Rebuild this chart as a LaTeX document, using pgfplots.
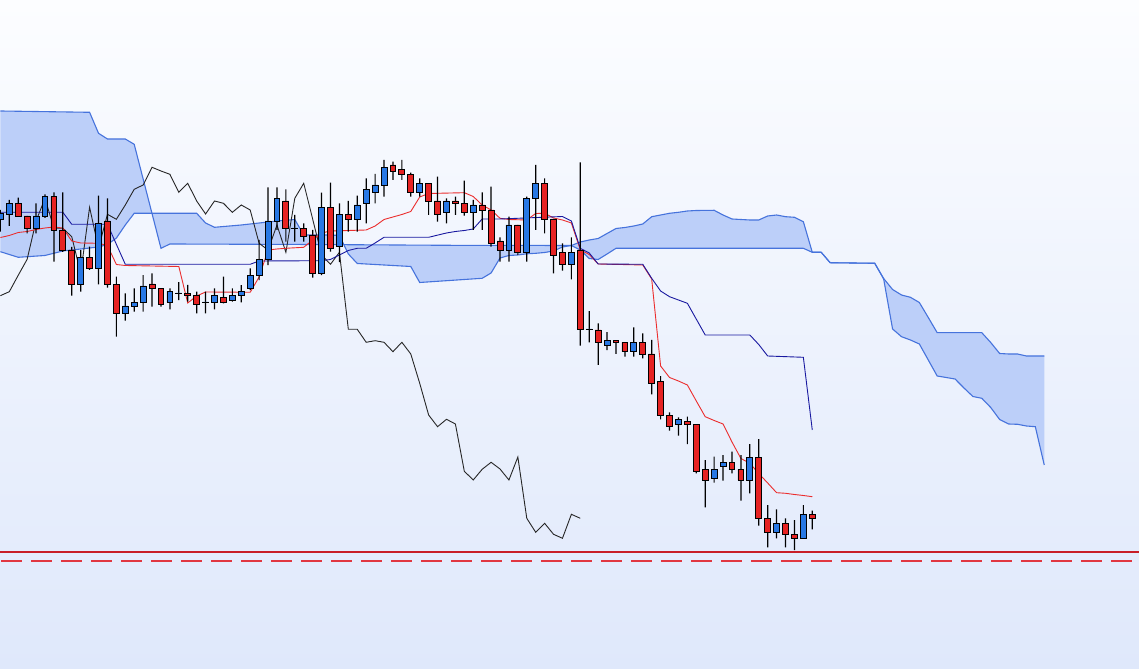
\documentclass[border=0pt]{standalone}
\usepackage{pgfplots}
\usepackage{pgfplotstable}
\pgfplotsset{compat=1.18}
\usepgfplotslibrary{fillbetween}

\definecolor{bgtop}{RGB}{252,253,255}
\definecolor{bgbot}{RGB}{223,232,251}
\definecolor{cloudc}{RGB}{188,207,249}
\definecolor{spanc}{RGB}{70,115,220}
\definecolor{kijunc}{RGB}{25,25,160}
\definecolor{tenkanc}{RGB}{235,45,45}
\definecolor{cred}{RGB}{230,35,35}
\definecolor{cblue}{RGB}{40,120,228}
\definecolor{hsolid}{RGB}{200,30,40}
\definecolor{hdash}{RGB}{225,55,65}

% candles: x, body top, body bottom, high, low (screen units, y grows downward)
\pgfplotstableread{
x T B H L
2 203.3 216 197.7 217
3 216 228.3 216 233.3
6 196.7 230 192.3 261.7
7 230 250 192.3 252
8 250 284.3 247 295.7
10 257.3 268.3 246.7 270
12 221 284.3 198.3 287.7
13 284.3 313.3 276.7 336.7
17 284 288.3 273.3 306.7
18 288.3 304.3 288.3 306.7
21 293.3 295.7 285 301.7
22 295.7 304.3 291.7 313.3
25 297.3 302.3 276.7 303.3
32 201 228.3 189.3 241.7
34 228.3 236.7 223.3 241.7
35 235 273.3 230 277.7
37 207.3 248.3 182.7 251.7
39 214.3 219.3 201 231.7
44 165 171 161.7 180
45 169.3 174.3 160 180
46 174.3 192.3 172.7 196.7
48 183.3 201 183.3 215
49 201 214 176.7 221.7
51 201 203.3 196.7 215
52 203.3 212.3 180.7 215.7
54 205 210 192.3 230
55 210 243.3 186.7 246.7
56 241 250 237.3 261.7
58 225 252.3 225 255
61 183.3 219 178.3 233.3
62 219 255 219 273.3
63 252.3 264.3 243.3 270.7
65 250 329.3 162.3 345.7
67 330 342.3 323.3 365
69 340.7 342.3 340.7 354
70 342.3 351.7 342.3 356.7
72 342.3 354 333.3 358.3
73 354 383.3 340 394.3
74 381.3 415 376 419.3
75 415.3 426.7 412.3 430.7
77 421.7 424 416.7 444
78 424.3 471.3 424.3 473.3
79 469.3 480 460 507.3
82 462.3 469 451.7 473.3
83 469.3 480 455 500.7
85 457 518.3 439 525.7
86 518.3 532.3 505 547.3
88 523.3 534.3 518.3 547.3
89 534.3 538.3 520 550
91 514.3 518.3 510.7 529.3
}\redc

\pgfplotstableread{
x T B H L
0 213.3 219.3 210 231.7
1 203.3 214.3 200 226
4 216 228.3 203.3 233.3
5 196.7 216 194.3 218
9 257.3 284.3 250 291.7
11 223.3 268.3 195.7 284.3
14 306 313.3 293.3 320.7
15 302.3 306.3 288.3 311.7
16 286 302.3 275 311.7
19 291.3 302.3 288.3 309.3
20 293 293.5 282 300
23 302 302.5 291.7 313.3
24 295.7 302.3 288.3 309.3
26 295.7 300 288.3 301.7
27 291.7 295 285 302.3
28 275.3 288.3 268.3 290
29 259.3 275.3 240 280
30 221 259.3 187.3 265
31 198.3 221 187.3 230
33 228 228.5 215 241.7
36 207.3 273.3 192.7 275
38 214.3 246.7 203.3 262
40 205 219.3 195.7 231.7
41 189.3 203.3 178.3 223.3
42 185 192.3 174 203.3
43 167.3 185 160 196.7
47 183.3 192.3 178.3 196.7
50 201 212.3 198.3 223.3
53 205 212.3 200 230
57 225 250 216.7 261.7
59 198.3 252.3 196.7 261.7
60 183.3 198.3 165 230
64 252.3 264.3 237.3 279.3
66 329 329.5 311 342.3
68 340.7 345.5 332 350
71 342.3 351.7 327.3 356.7
76 419.3 424 417.3 435.7
80 469.3 478.3 456.7 482.7
81 462.3 466 455 480.7
84 457 480 444 493.3
87 523.3 532.3 509.3 538.3
90 514.3 538.3 505 538.3
}\bluec

\pgfplotstableread{
x y
0 251.7
2 257.3
5 255.5
7 251
11 247
12 244.5
13 238.1
14 225
15 213.3
22 213.3
23 223
24 227.3
27 225
31 221
33 219.5
34 235
37 235
38 235.5
39 254
40 263.5
46 266.5
47 282.5
54 278.3
55 273
56 258
57 255.5
58 255
59 253.8
60 253.3
61 252.5
62 251
63 247
64 245.5
65 242
66 240
67 238.5
68 233.5
69 228.5
70 227.5
71 226
72 224
73 216.7
74 215
75 213.3
76 212.3
77 211
78 210.5
80 210.3
81 215
82 219
84 220
85 220
86 216
87 215
88 216.7
89 217.3
90 221.7
91 252.3
92 252.3
93 262.7
98 263.3
99 278.5
100 289.5
101 295
102 297.3
103 302.5
104 317.5
105 332.7
110 332.7
111 342.5
112 353.5
113 354
114 354
115 356
117 356
}\spanA

\pgfplotstableread{
x y
0 111
10 112.3
11 133.3
12 139
14 139
15 144.3
18 248.3
19 244
35 244.5
50 245.3
64 245.5
65 250
66 258.5
67 259.5
68 254
69 248.3
90 248.3
91 252.3
92 252.3
93 262.7
98 263.3
99 279
100 329
101 336.7
102 340
103 344
104 360
105 376
106 377.5
107 379
108 388
109 396.5
110 398.3
111 407.5
112 419.5
113 424
114 424.3
115 426
116 426.7
117 465
}\spanB

\pgfplotstableread{
x y
0 295.7
1 291.7
2 275.3
3 259.3
4 221
5 198.3
6 228.3
7 228.3
8 236.7
9 273.3
10 207.3
11 248.3
12 214.3
13 219.3
14 205
15 189.3
16 185
17 167.3
18 171
19 174.3
20 192.3
21 183.3
22 201
23 214
24 201
25 203.3
26 212.3
27 205
28 210
29 243.3
30 250
31 225
32 252.3
33 198.3
34 183.3
35 219
36 255
37 264.3
38 252.3
39 329.3
40 329.3
41 342.3
42 340.7
43 342.3
44 351.7
45 342.3
46 354
47 383.3
48 415
49 426.7
50 419.3
51 424
52 471.3
53 480
54 469.3
55 462.3
56 469
57 480
58 457
59 518.3
60 532.3
61 523.3
62 534.3
63 538.3
64 514.3
65 518.3
}\chikou

\pgfplotstableread{
x y
0 212.3
7 212.3
8 224.3
12 224.3
14 264.3
28 264.3
29 261
36 260.7
37 259.5
38 255
39 250.5
40 248.3
41 248.3
42 243
43 237.3
48 237.3
50 233
51 231.5
52 230.5
53 229
54 219
56 219
63 216.5
64 221
65 248.3
66 253
67 264
72 264.3
73 278.3
74 291
75 296.7
76 300
77 303.3
79 335
84 335
85 344.5
86 356
90 357.3
91 430
}\kijun

\pgfplotstableread{
x y
0 237.5
1 235.5
2 232.5
3 231.5
4 229.5
5 228
6 227
7 228
8 241
9 243
11 243.3
12 245.5
13 264.5
14 265.5
20 266.5
21 303
22 296
23 292
28 292.3
29 277
30 250
31 249
32 248.3
34 247.3
35 240
36 233
37 231
41 230
42 226
43 219.5
44 217
45 214.5
46 211.5
47 197
48 193.5
52 192.7
53 196.5
54 205
55 210
56 218.3
57 219.5
59 220
60 213.5
61 213.3
62 218
63 220
64 223
65 250
66 254.5
67 264
72 265
73 279
74 366
75 377.5
76 381
77 385
78 401
79 416.7
80 420.5
81 424
82 442
83 458.5
84 463.3
85 473.5
86 483
87 492.7
88 493.3
89 494.5
90 495.5
91 496.7
}\tenkan

\pgfplotsset{
  baseax/.style={scale only axis, width=1139pt, height=669pt,
    xmin=-0.0426, xmax=127.62, ymin=0, ymax=669, y dir=reverse},
  candleax/.style={baseax, hide axis, ybar stacked},
}

\begin{document}
\begin{tikzpicture}
\begin{axis}[baseax, axis line style={draw=none}, ticks=none,
  axis background/.style={top color=bgtop, bottom color=bgbot}]
  \addplot[draw=none, name path=A, forget plot] table {\spanA};
  \addplot[draw=none, name path=B, forget plot] table {\spanB};
  \addplot[cloudc, draw=none] fill between[of=A and B];
  \addplot[spanc, line width=1.1pt] table {\spanA};
  \addplot[spanc, line width=1.1pt] table {\spanB};
  \addplot[black!85, line width=0.9pt] table {\chikou};
  \addplot[tenkanc, line width=0.9pt] table {\tenkan};
  \addplot[kijunc, line width=0.9pt] table {\kijun};
  \addplot[hsolid, line width=1.7pt] coordinates {(-1,551.8) (130,551.8)};
  \addplot[hdash, line width=1.7pt, dash pattern=on 21pt off 9pt] coordinates {(0.07,561) (130,561)};
\end{axis}
% wicks
\begin{axis}[candleax, bar width=0.135]
  \addplot[draw=none, fill=none] table[x=x, y=H] {\redc};
  \addplot[draw=none, fill=black] table[x=x, y expr=\thisrow{L}-\thisrow{H}] {\redc};
\end{axis}
\begin{axis}[candleax, bar width=0.135]
  \addplot[draw=none, fill=none] table[x=x, y=H] {\bluec};
  \addplot[draw=none, fill=black] table[x=x, y expr=\thisrow{L}-\thisrow{H}] {\bluec};
\end{axis}
% bodies
\begin{axis}[candleax, bar width=0.66]
  \addplot[draw=none, fill=none] table[x=x, y=T] {\redc};
  \addplot[draw=black, line width=0.9pt, fill=cred] table[x=x, y expr=\thisrow{B}-\thisrow{T}] {\redc};
\end{axis}
\begin{axis}[candleax, bar width=0.66]
  \addplot[draw=none, fill=none] table[x=x, y=T] {\bluec};
  \addplot[draw=black, line width=0.9pt, fill=cblue] table[x=x, y expr=\thisrow{B}-\thisrow{T}] {\bluec};
\end{axis}
\end{tikzpicture}
\end{document}
